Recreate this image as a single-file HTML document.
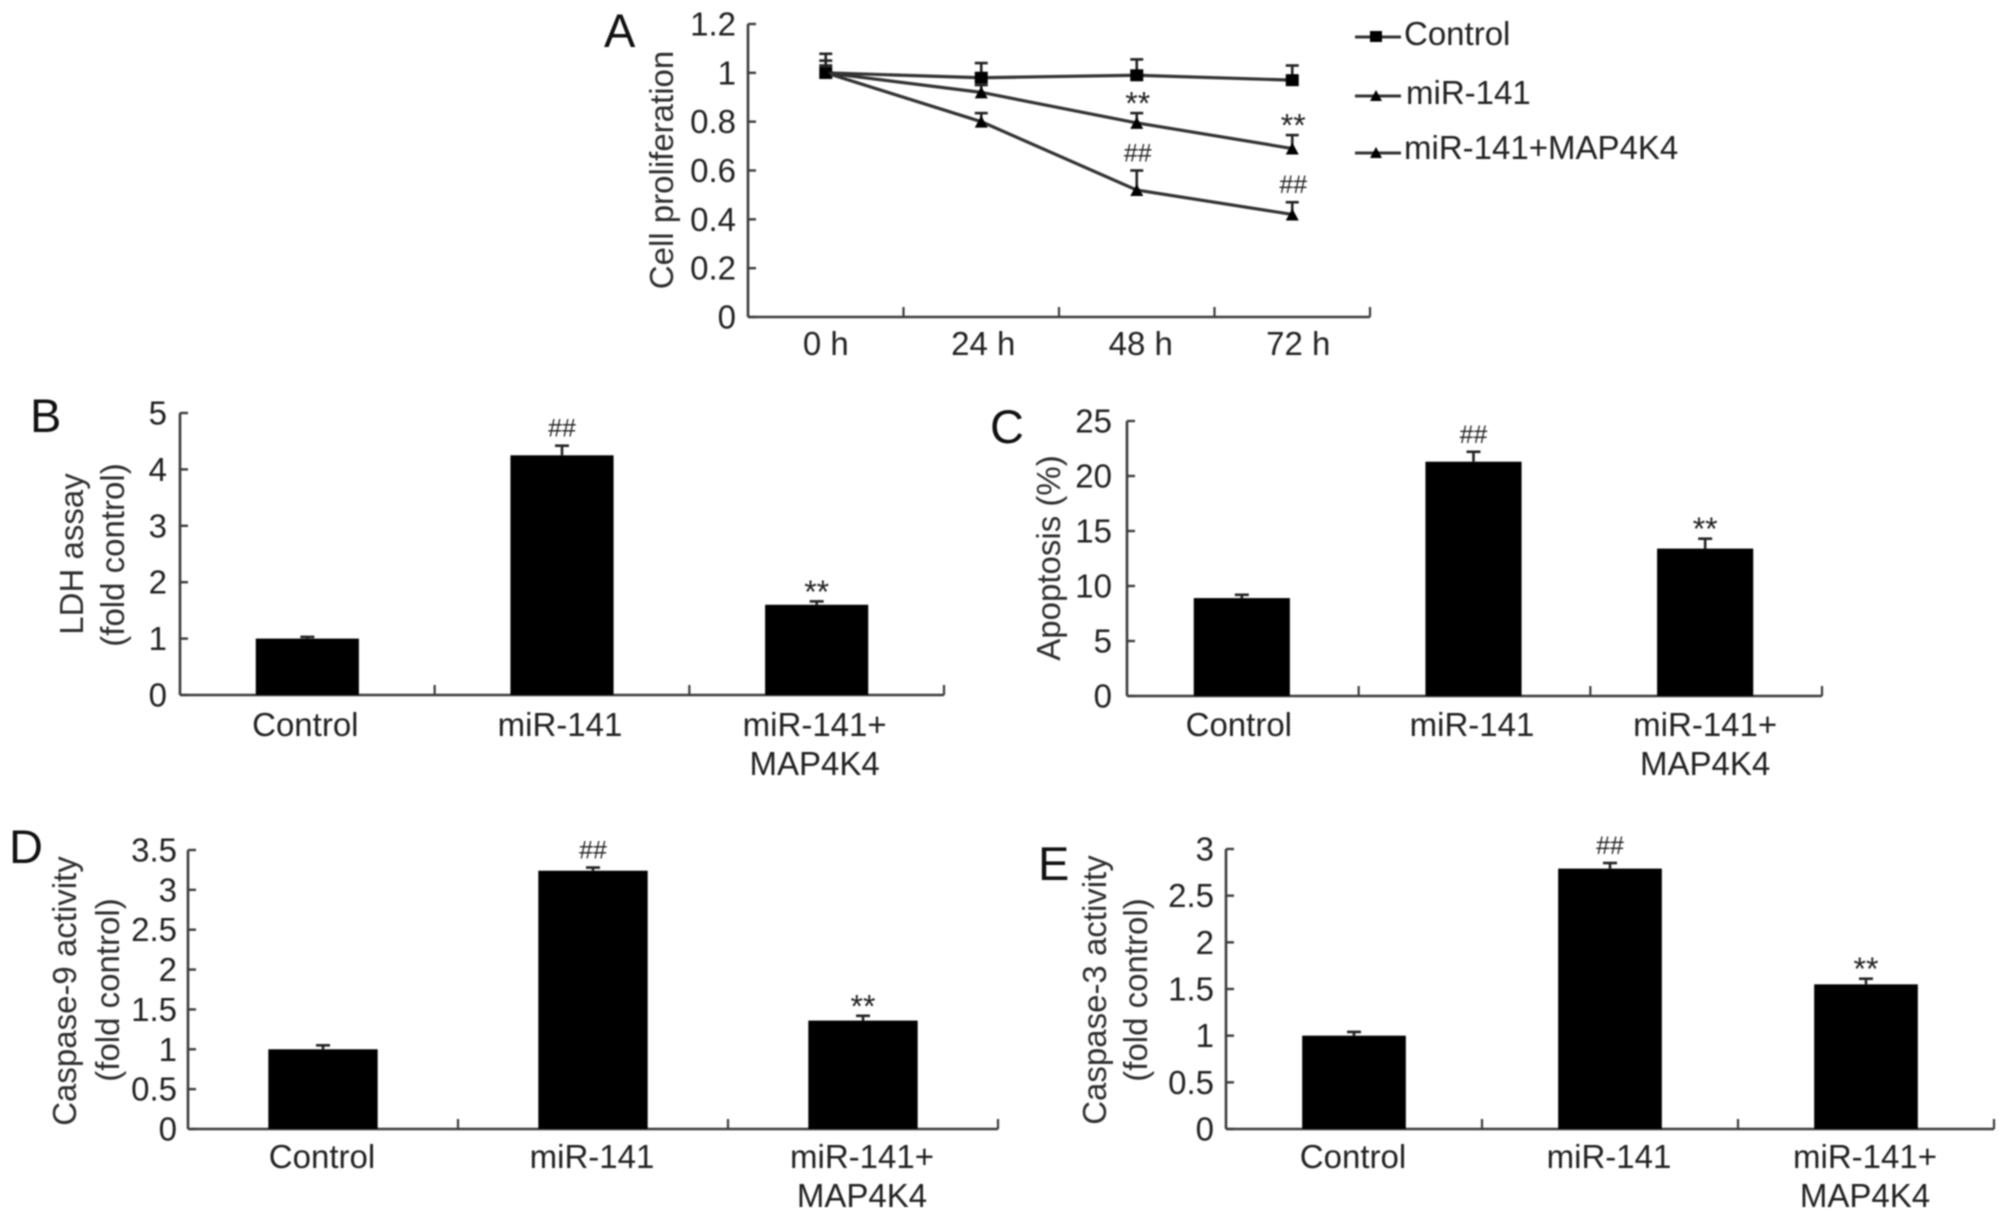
<!DOCTYPE html>
<html>
<head>
<meta charset="utf-8">
<title>Panels A-E: cell proliferation, LDH, apoptosis and caspase activity</title>
<style>
html,body{margin:0;padding:0;background:#fff;width:2008px;height:1220px;overflow:hidden}
svg{display:block;filter:blur(0.7px)}
text{font-family:"Liberation Sans",sans-serif;font-size:33px;fill:#222}
.letter{font-size:47px;fill:#111}
.mark{font-size:25px;text-anchor:middle}
.star{font-size:32px;text-anchor:middle}
.title{text-anchor:middle;fill:#2e2e2e}
</style>
</head>
<body>
<svg id="figure" xmlns="http://www.w3.org/2000/svg" width="2008" height="1220" viewBox="0 0 2008 1220">
  <rect width="2008" height="1220" fill="#fff"/>

  <text class="letter" x="604" y="47">A</text>
  <text class="letter" x="30" y="432">B</text>
  <text class="letter" x="990" y="443">C</text>
  <text class="letter" x="9" y="863">D</text>
  <text class="letter" x="1038" y="880">E</text>

  <text class="title" transform="translate(673,170) rotate(-90)">Cell proliferation</text>
  <text class="title" transform="translate(83,554) rotate(-90)">LDH assay</text>
  <text class="title" transform="translate(124,555) rotate(-90)">(fold control)</text>
  <text class="title" transform="translate(1060,558) rotate(-90)">Apoptosis (%)</text>
  <text class="title" transform="translate(76,991) rotate(-90)">Caspase-9 activity</text>
  <text class="title" transform="translate(119,990) rotate(-90)">(fold control)</text>
  <text class="title" transform="translate(1106,990) rotate(-90)">Caspase-3 activity</text>
  <text class="title" transform="translate(1147,990) rotate(-90)">(fold control)</text>

  <g>
    <g>
      <line x1="1355" y1="37" x2="1401" y2="37" stroke="#333" stroke-width="3"/>
      <rect x="1370" y="31" width="12" height="11" fill="#000"/>
      <text x="1404" y="45">Control</text>
    </g>
    <g>
      <line x1="1355" y1="96" x2="1401" y2="96" stroke="#333" stroke-width="3"/>
      <polygon points="1376,90 1382,101 1370,101" fill="#000"/>
      <text x="1406" y="104">miR-141</text>
    </g>
    <g>
      <line x1="1355" y1="153" x2="1401" y2="153" stroke="#333" stroke-width="3"/>
      <polygon points="1376,147 1382,158 1370,158" fill="#000"/>
      <text x="1404" y="159">miR-141+MAP4K4</text>
    </g>
  </g>
</svg>

<script>
// Panel A data
const aCategories = ['0 h', '24 h', '48 h', '72 h'];
const aTicks = [0, 0.2, 0.4, 0.6, 0.8, 1, 1.2];
const aControl = [1, 0.98, 0.99, 0.97];
const aControlErr = [0.078, 0.06, 0.065, 0.06];
const aMir = [1, 0.92, 0.795, 0.69];
const aMirErr = [0.05, 0.03, 0.04, 0.055];
const aMirMarks = ['', '', '**', '**'];
const aCombo = [1, 0.8, 0.52, 0.42];
const aComboErr = [0.03, 0.035, 0.08, 0.05];
const aComboMarks = ['', '', '##', '##'];

// Bar panel data
const barCategories = ['Control', 'miR-141', 'miR-141+|MAP4K4'];
const barMarks = ['', '##', '**'];

const bTicks = [0, 1, 2, 3, 4, 5];
const bValues = [1, 4.25, 1.6];
const bErrors = [0.03, 0.17, 0.06];

const cTicks = [0, 5, 10, 15, 20, 25];
const cValues = [8.9, 21.3, 13.4];
const cErrors = [0.3, 0.9, 0.9];

const dTicks = [0, 0.5, 1, 1.5, 2, 2.5, 3, 3.5];
const dValues = [1, 3.24, 1.36];
const dErrors = [0.05, 0.04, 0.06];

const eTicks = [0, 0.5, 1, 1.5, 2, 2.5, 3];
const eValues = [1, 2.79, 1.55];
const eErrors = [0.04, 0.06, 0.06];

const svg = document.getElementById('figure');
const NS = 'http://www.w3.org/2000/svg';
const AXIS = '#3c3c3c';

function make(tag, attrs, parent) {
  const node = document.createElementNS(NS, tag);
  for (const k in attrs) node.setAttribute(k, attrs[k]);
  parent.appendChild(node);
  return node;
}

function scales(frame, count) {
  return {
    y: v => frame.bottom - (v / frame.yMax) * (frame.bottom - frame.top),
    x: i => frame.left + (i + 0.5) * (frame.right - frame.left) / count,
    edge: i => frame.left + i * (frame.right - frame.left) / count
  };
}

function drawAxes(id, frame, ticks, categories) {
  const s = scales(frame, categories.length);
  const g = make('g', {}, svg);
  
  
  const yLine = make('line', {x1: frame.left, x2: frame.left, y1: frame.top, y2: frame.bottom, stroke: AXIS, 'stroke-width': 2.6}, g);
  
  
  const xLine = make('line', {x1: frame.left, x2: frame.right, y1: frame.bottom, y2: frame.bottom, stroke: AXIS, 'stroke-width': 2.6}, g);
  
  

  ticks.forEach(v => {
    const y = s.y(v);
    const tick = make('line', {x1: frame.left, x2: frame.left + 8, y1: y, y2: y, stroke: AXIS, 'stroke-width': 2.4}, g);
    
    
    const label = make('text', {x: frame.labelRight, y: y + 11.5, 'text-anchor': 'end'}, g);
    
    
    label.textContent = String(v);
  });

  categories.forEach((c, i) => {
    const ex = s.edge(i + 1);
    const tick = make('line', {x1: ex, x2: ex, y1: frame.bottom, y2: frame.bottom - 10, stroke: AXIS, 'stroke-width': 2.2}, g);
    
    
    c.split('|').forEach((line, n) => {
      const label = make('text', {x: s.x(i) + i * frame.labelShift + frame.labelNudge, y: frame.labelBase + n * 39, 'text-anchor': 'middle'}, g);
      
      
      label.textContent = line;
    });
  });
}

function drawMark(id, text, x, errTopY, parent) {
  const isStar = text === '**';
  const node = make('text', {class: isStar ? 'star' : 'mark', x: x, y: isStar ? errTopY - 17.5 + 19 : errTopY - 17.5 + 8.5}, parent);
  
  
  node.textContent = text;
}

function drawError(id, x, y0, y1, cap, parent) {
  const stem = make('line', {x1: x, x2: x, y1: y0, y2: y1, stroke: '#222', 'stroke-width': 2.6}, parent);
  
  
  const top = make('line', {x1: x - cap / 2, x2: x + cap / 2, y1: y1, y2: y1, stroke: '#222', 'stroke-width': 2.6}, parent);
  
  
}

function drawBars(id, frame, ticks, values, errors) {
  drawAxes(id, frame, ticks, barCategories);
  const s = scales(frame, values.length);
  const band = (frame.right - frame.left) / values.length;
  const w = band * frame.barWidth;
  const g = make('g', {}, svg);
  
  
  values.forEach((v, i) => {
    const cx = s.x(i) + frame.barNudge;
    const errTop = s.y(v + errors[i]);
    drawError(id + '-' + i, cx, s.y(v), errTop, 14, g);
    const bar = make('rect', {x: cx - w / 2, y: s.y(v), width: w, height: frame.bottom - s.y(v), fill: '#000'}, g);
    
    
    if (barMarks[i]) drawMark(id + '-' + i, barMarks[i], cx, errTop, g);
  });
}

function drawSeries(id, frame, values, errors, marks, shape) {
  const s = scales(frame, values.length);
  const g = make('g', {}, svg);
  
  
  values.forEach((v, i) => {
    const errTop = s.y(v + errors[i]);
    drawError(id + '-' + i, s.x(i), s.y(v), errTop, 13, g);
    if (marks && marks[i]) drawMark(id + '-' + i, marks[i], s.x(i) + 1, errTop, g);
  });
  const line = make('polyline', {
    points: values.map((v, i) => s.x(i) + ',' + s.y(v)).join(' '),
    fill: 'none', stroke: '#333', 'stroke-width': 3.2
  }, g);
  
  
  values.forEach((v, i) => {
    const x = s.x(i), y = s.y(v);
    let point;
    if (shape === 'square') {
      point = make('rect', {x: x - 6.5, y: y - 6, width: 13, height: 12, fill: '#000'}, g);
    } else {
      point = make('polygon', {points: (x) + ',' + (y - 6) + ' ' + (x + 6.5) + ',' + (y + 6) + ' ' + (x - 6.5) + ',' + (y + 6), fill: '#000'}, g);
    }
    
    
  });
}

const frameA = {left: 748, right: 1370, top: 24, bottom: 317, yMax: 1.2, labelRight: 736, labelBase: 355, labelShift: 2, labelNudge: 0};
const frameB = {left: 180, right: 944, top: 413, bottom: 695, yMax: 5, labelRight: 167, labelBase: 736, labelShift: 0, labelNudge: -2};
const frameC = {left: 1127, right: 1822, top: 421, bottom: 696, yMax: 25, labelRight: 1112, labelBase: 736, labelShift: 1.5, labelNudge: -4};
const frameD = {left: 188, right: 998, top: 850, bottom: 1129, yMax: 3.5, labelRight: 177, labelBase: 1168, labelShift: 0, labelNudge: -1};
const frameE = {left: 1226, right: 1994, top: 849, bottom: 1129, yMax: 3, labelRight: 1214, labelBase: 1168, labelShift: 0, labelNudge: -1};
frameB.barWidth = 0.405;
frameB.barNudge = 0;
frameC.barWidth = 0.415;
frameC.barNudge = -1;
frameD.barWidth = 0.405;
frameD.barNudge = 0;
frameE.barWidth = 0.405;
frameE.barNudge = 0;

drawAxes('a', frameA, aTicks, aCategories);
drawSeries('control', frameA, aControl, aControlErr, null, 'square');
drawSeries('mir-141', frameA, aMir, aMirErr, aMirMarks, 'triangle');
drawSeries('mir-141-map4k4', frameA, aCombo, aComboErr, aComboMarks, 'triangle');

drawBars('b', frameB, bTicks, bValues, bErrors);
drawBars('c', frameC, cTicks, cValues, cErrors);
drawBars('d', frameD, dTicks, dValues, dErrors);
drawBars('e', frameE, eTicks, eValues, eErrors);
</script>
</body>
</html>
